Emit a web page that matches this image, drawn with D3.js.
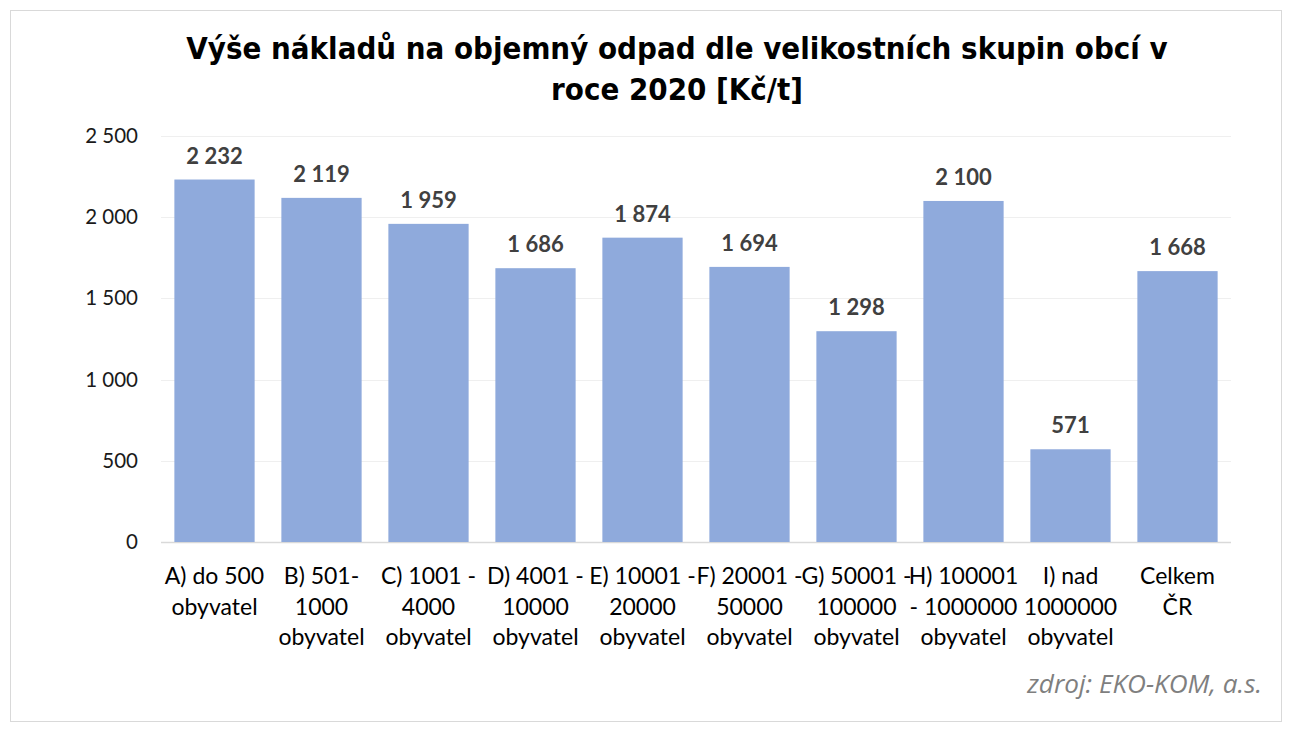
<!DOCTYPE html>
<html><head><meta charset="utf-8">
<script src="https://cdn.jsdelivr.net/npm/d3@7"></script>
<style>body{margin:0;background:#fff;} svg{display:block;font-family:Lato, "Open Sans", sans-serif;}</style>
</head><body>
<svg id="c" width="1292" height="734"></svg>
<script>
const categories = ["A) do 500\nobyvatel","B) 501-\n1000\nobyvatel","C) 1001 -\n4000\nobyvatel","D) 4001 -\n10000\nobyvatel","E) 10001 -\n20000\nobyvatel","F) 20001 -\n50000\nobyvatel","G) 50001 -\n100000\nobyvatel","H) 100001\n- 1000000\nobyvatel","I) nad\n1000000\nobyvatel","Celkem\nČR"];
const values = [2232,2119,1959,1686,1874,1694,1298,2100,571,1668];
const yTicks = [0,500,1000,1500,2000,2500];
const titleLines = ["Výše nákladů na objemný odpad dle velikostních skupin obcí v","roce 2020 [Kč/t]"];
const source = "zdroj: EKO-KOM, a.s.";

const svg = d3.select("#c");
const fmt = v => d3.format(",")(v).replace(/,/g," ");
svg.append("rect").attr("x",10.5).attr("y",10.5).attr("width",1271).attr("height",711).attr("fill","#fff").attr("stroke","#d9d9d9");

const x = d3.scaleBand().domain(categories).range([161,1231]).paddingInner(0.25).paddingOuter(0.125);
const y = d3.scaleLinear().domain([0,2500]).range([542,136]);

svg.append("g").selectAll("line").data(yTicks).join("line")
  .attr("x1",161).attr("x2",1231).attr("y1",d=>Math.round(y(d))+0.5).attr("y2",d=>Math.round(y(d))+0.5)
  .attr("stroke",d=>d===0?"#d9d9d9":"#efefef").attr("stroke-width",d=>d===0?1.5:1);

svg.append("g").selectAll("text").data(yTicks).join("text")
  .attr("x",138).attr("y",d=>y(d)+7).attr("text-anchor","end").attr("font-size",20.5).attr("fill","#1a1a1a").text(fmt);

svg.append("g").selectAll("rect").data(values).join("rect")
  .attr("x",(d,i)=>x(categories[i])).attr("width",x.bandwidth())
  .attr("y",d=>y(d)).attr("height",d=>y(0)-y(d)).attr("fill","#8faadc");

svg.append("g").selectAll("text").data(values).join("text")
  .attr("x",(d,i)=>x(categories[i])+x.bandwidth()/2).attr("y",d=>y(d)-16)
  .attr("text-anchor","middle").attr("font-size",22).attr("font-weight","bold").attr("fill","#404040").text(fmt);

const cl = svg.append("g").selectAll("text").data(categories).join("text")
  .attr("x",d=>x(d)+x.bandwidth()/2).attr("y",584).attr("text-anchor","middle").attr("font-size",23).attr("fill","#000");
cl.each(function(d){
  const t=d3.select(this);
  d.split("\n").forEach((ln,i)=>t.append("tspan").attr("x",x(d)+x.bandwidth()/2).attr("dy",i?30.5:0).text(ln));
});

const tt = svg.append("g").selectAll("text").data(titleLines).join("text")
  .attr("x",677).attr("y",(d,i)=>59+i*41).attr("text-anchor","middle")
  .style("font-family","'DejaVu Sans Condensed', 'DejaVu Sans', sans-serif").attr("font-size",28).attr("font-weight","bold").attr("fill","#000").text(d=>d);
// fit first title line width to reference (~982px)
const w0 = tt.node().getComputedTextLength();
tt.attr("font-size", 28*982/w0);

const src = svg.append("text").attr("x",1262).attr("y",693).attr("text-anchor","end")
  .style("font-family","'Open Sans', sans-serif").attr("font-size",20).attr("font-style","italic").attr("fill","#7f7f7f").text(source);
const ws = src.node().getComputedTextLength();
src.attr("font-size", 20*235/ws);
</script>
</body></html>
